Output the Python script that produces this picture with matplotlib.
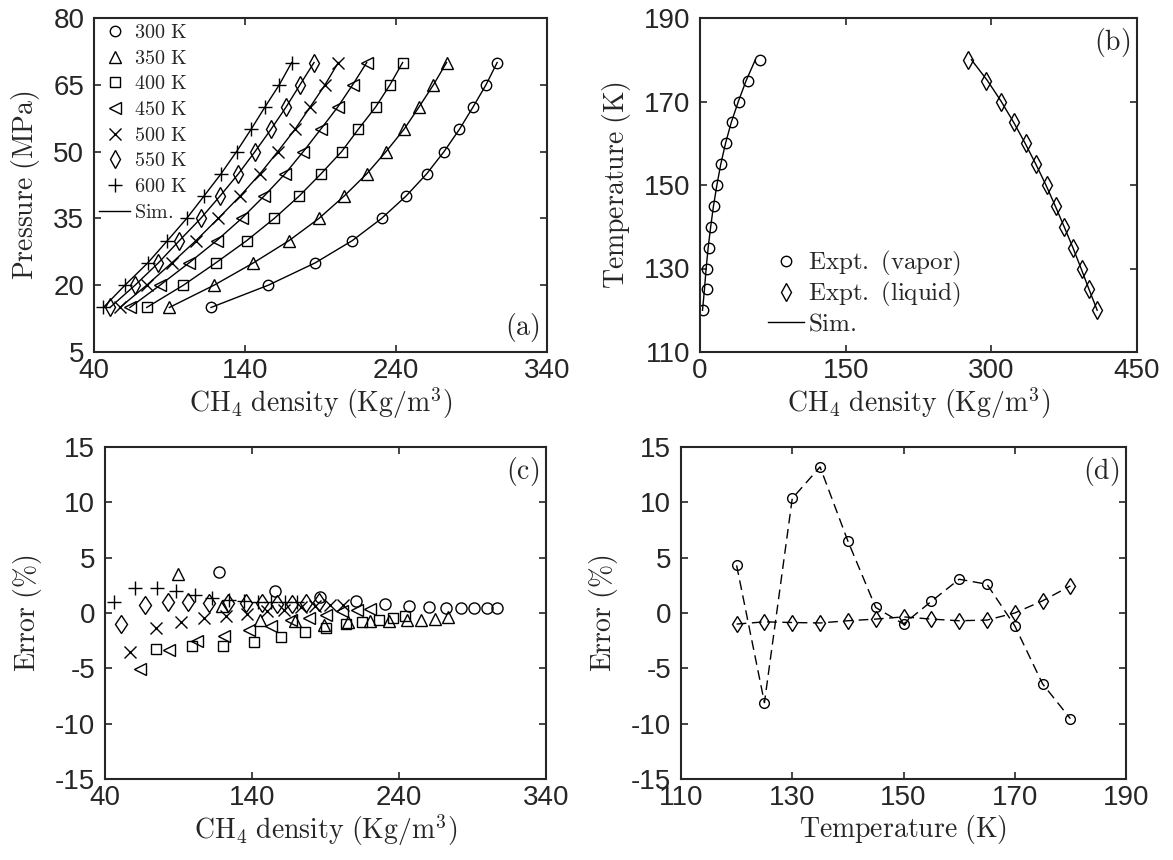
import matplotlib
matplotlib.use("Agg")
import matplotlib.pyplot as plt
from matplotlib.lines import Line2D

plt.rcParams['mathtext.fontset'] = 'cm'
plt.rcParams['axes.unicode_minus'] = False
plt.rcParams['font.family'] = ['Liberation Sans', 'DejaVu Sans']

# ---------------- data ----------------
pressure = [15, 20, 25, 30, 35, 40, 45, 50, 55, 60, 65, 70]
temps_labels = ['300 K', '350 K', '400 K', '450 K', '500 K', '550 K', '600 K']

dens_300 = [117.5, 155.4, 186.4, 211.0, 230.5, 246.6, 260.3, 271.8, 282.0, 291.0, 299.6, 307.0]
dens_350 = [89.9, 119.5, 145.5, 169.1, 189.0, 205.6, 220.6, 233.4, 245.3, 255.2, 264.8, 273.5]
dens_400 = [74.9, 99.2, 120.6, 141.1, 159.4, 175.8, 190.3, 204.0, 215.0, 226.5, 236.0, 244.4]
dens_450 = [63.8, 83.7, 102.9, 121.2, 137.8, 152.6, 166.5, 178.6, 190.1, 201.4, 211.3, 220.6]
dens_500 = [57.2, 74.9, 91.5, 107.5, 122.3, 136.7, 149.9, 161.7, 173.1, 183.1, 193.0, 201.8]
dens_550 = [50.6, 67.2, 82.6, 96.5, 110.7, 123.4, 135.6, 146.6, 157.2, 167.2, 176.4, 185.7]
dens_600 = [46.2, 60.5, 75.6, 88.6, 101.4, 112.8, 124.1, 134.4, 144.0, 153.2, 162.7, 170.9]

err_300 = [3.75, 1.95, 1.45, 1.05, 0.85, 0.65, 0.5, 0.45, 0.45, 0.45, 0.45, 0.45]
err_350 = [3.55, 0.6, -0.65, -0.75, -1.05, -0.85, -0.75, -0.7, -0.6, -0.6, -0.5, -0.4]
err_400 = [-3.25, -3.0, -2.95, -2.65, -2.15, -1.75, -1.35, -1.0, -0.85, -0.6, -0.45, -0.3]
err_450 = [-5.1, -3.3, -2.5, -2.05, -1.55, -1.15, -0.6, -0.45, -0.15, 0.15, 0.25, 0.35]
err_500 = [-3.5, -1.4, -0.85, -0.45, -0.25, -0.1, 0.15, 0.3, 0.5, 0.6, 0.7, 0.75]
err_550 = [-1.0, 0.7, 0.95, 0.95, 0.9, 0.9, 0.9, 0.9, 0.85, 0.85, 0.9, 1.0]
err_600 = [1.0, 2.3, 2.3, 2.0, 1.6, 1.4, 1.2, 1.05, 1.0, 1.0, 0.95, 0.95]

vle_temp = [120, 125, 130, 135, 140, 145, 150, 155, 160, 165, 170, 175, 180]
vap_expt = [3.4, 6.9, 7.5, 9.3, 11.3, 14.4, 17.2, 21.3, 26.8, 33.0, 39.8, 49.8, 61.8]
liq_expt = [409.2, 401.0, 393.1, 384.5, 375.2, 366.6, 357.0, 346.0, 335.4, 323.4, 310.0, 294.5, 276.4]
vap_sim = [2.6, 4.6, 6.3, 8.4, 11.0, 13.9, 17.4, 21.4, 26.3, 32.2, 39.5, 47.5, 57.0]
liq_sim = [409.0, 400.6, 392.4, 384.0, 375.0, 365.8, 356.2, 345.8, 334.8, 323.0, 310.2, 296.0, 279.5]

err_vap = [4.3, -8.1, 10.35, 13.2, 6.5, 0.5, -1.0, 1.05, 3.05, 2.6, -1.15, -6.4, -9.55]
err_liq = [-1.0, -0.8, -0.86, -0.9, -0.7, -0.55, -0.35, -0.55, -0.7, -0.64, 0.0, 1.1, 2.45]

# ---------------- style ----------------
GRAY = '#262626'
TICK_FS = 20
LAB_FS = 20
dens_all = [dens_300, dens_350, dens_400, dens_450, dens_500, dens_550, dens_600]
err_all = [err_300, err_350, err_400, err_450, err_500, err_550, err_600]
markers = ['o', '^', 's', '<', 'x', 'd', '+']
msizes = [7.5, 8.5, 6.5, 8.5, 8, 9, 10]


def style(ax, xlim, ylim, xt, yt):
    ax.set_xlim(xlim)
    ax.set_ylim(ylim)
    ax.set_xticks(xt)
    ax.set_yticks(yt)
    ax.set_xticklabels([str(v) for v in xt])
    ax.set_yticklabels([str(v) for v in yt])
    ax.tick_params(direction='in', length=5, width=1.2, top=True, right=True,
                   labelsize=TICK_FS, colors=GRAY)
    ax.tick_params(axis='x', pad=4)
    ax.tick_params(axis='y', pad=7)
    for s in ax.spines.values():
        s.set_linewidth(1.5)
        s.set_color(GRAY)


def lab(txt):
    return r'$\mathrm{' + txt + '}$'


fig = plt.figure(figsize=(11.73, 8.6), dpi=100)
W, H = 1173.0, 860.0


def axes_px(l, r, t, b):
    return fig.add_axes([l / W, (H - b) / H, (r - l) / W, (b - t) / H])


axA = axes_px(94, 547, 18, 352)
axB = axes_px(700, 1137, 18, 352)
axC = axes_px(105, 546, 447, 779)
axD = axes_px(681, 1126, 447, 779)

mk = dict(color='k', mfc='none', mec='k', mew=1.0, linestyle='none')

# ---- (a) ----
for d in dens_all:
    axA.plot(d, pressure, color='k', lw=1.0)
for d, m, ms in zip(dens_all, markers, msizes):
    axA.plot(d, pressure, marker=m, ms=ms, **mk)
style(axA, (40, 340), (5, 80), [40, 140, 240, 340], [5, 20, 35, 50, 65, 80])
axA.set_xlabel(lab(r'CH_4\ density\ (Kg/m^3)'), fontsize=LAB_FS, color=GRAY, labelpad=1)
axA.set_ylabel(lab(r'Pressure\ (MPa)'), fontsize=LAB_FS, color=GRAY, labelpad=8)
axA.text(0.985, 0.025, lab('(a)'), transform=axA.transAxes, ha='right', va='bottom',
         fontsize=LAB_FS, color=GRAY)
hA = [Line2D([], [], marker=m, ms=ms, **mk) for m, ms in zip(markers, msizes)]
hA.append(Line2D([], [], color='k', lw=1.0))
legA = axA.legend(hA, [lab(t.replace(' ', r'\ ')) for t in temps_labels] + [lab('Sim.')],
                  loc='upper left', frameon=False, fontsize=14.5, handlelength=1.55,
                  handletextpad=0.2, labelspacing=0.33, borderaxespad=0.0,
                  borderpad=0.25)
for t in legA.get_texts():
    t.set_color(GRAY)

# ---- (b) ----
axB.plot(vap_sim, vle_temp, color='k', lw=1.0)
axB.plot(liq_sim, vle_temp, color='k', lw=1.0)
axB.plot(vap_expt, vle_temp, marker='o', ms=7.5, **mk)
axB.plot(liq_expt, vle_temp, marker='d', ms=9, **mk)
style(axB, (0, 450), (110, 190), [0, 150, 300, 450], [110, 130, 150, 170, 190])
axB.set_xlabel(lab(r'CH_4\ density\ (Kg/m^3)'), fontsize=LAB_FS, color=GRAY, labelpad=1)
axB.set_ylabel(lab(r'Temperature\ (K)'), fontsize=LAB_FS, color=GRAY, labelpad=8)
axB.text(0.985, 0.975, lab('(b)'), transform=axB.transAxes, ha='right', va='top',
         fontsize=LAB_FS, color=GRAY)
hB = [Line2D([], [], marker='o', ms=7.5, **mk), Line2D([], [], marker='d', ms=9, **mk),
      Line2D([], [], color='k', lw=1.0)]
legB = axB.legend(hB, [lab(r'Expt.\ (vapor)'), lab(r'Expt.\ (liquid)'), lab('Sim.')],
                  loc='lower left', bbox_to_anchor=(0.155, 0.05), frameon=False,
                  fontsize=18, handlelength=1.45, handletextpad=0.15, labelspacing=0.08,
                  borderaxespad=0.0, borderpad=0.0)
for t in legB.get_texts():
    t.set_color(GRAY)

# ---- (c) ----
for d, e, m, ms in zip(dens_all, err_all, markers, msizes):
    axC.plot(d, e, marker=m, ms=ms + 0.5, **mk)
style(axC, (40, 340), (-15, 15), [40, 140, 240, 340], [-15, -10, -5, 0, 5, 10, 15])
axC.set_xlabel(lab(r'CH_4\ density\ (Kg/m^3)'), fontsize=LAB_FS, color=GRAY, labelpad=1)
axC.set_ylabel(lab(r'Error\ (\%)'), fontsize=LAB_FS, color=GRAY, labelpad=8)
axC.text(0.985, 0.975, lab('(c)'), transform=axC.transAxes, ha='right', va='top',
         fontsize=LAB_FS, color=GRAY)

# ---- (d) ----
axD.plot(vle_temp, err_vap, color='k', lw=1.0, ls=(0, (7, 4)), marker='o', ms=7,
         mfc='none', mec='k', mew=1.0)
axD.plot(vle_temp, err_liq, color='k', lw=1.0, ls=(0, (7, 4)), marker='d', ms=8.5,
         mfc='none', mec='k', mew=1.0)
style(axD, (110, 190), (-15, 15), [110, 130, 150, 170, 190], [-15, -10, -5, 0, 5, 10, 15])
axD.set_xlabel(lab(r'Temperature\ (K)'), fontsize=LAB_FS, color=GRAY, labelpad=2)
axD.set_ylabel(lab(r'Error\ (\%)'), fontsize=LAB_FS, color=GRAY, labelpad=8)
axD.text(0.985, 0.975, lab('(d)'), transform=axD.transAxes, ha='right', va='top',
         fontsize=LAB_FS, color=GRAY)

fig.savefig('out.png', dpi=100)
